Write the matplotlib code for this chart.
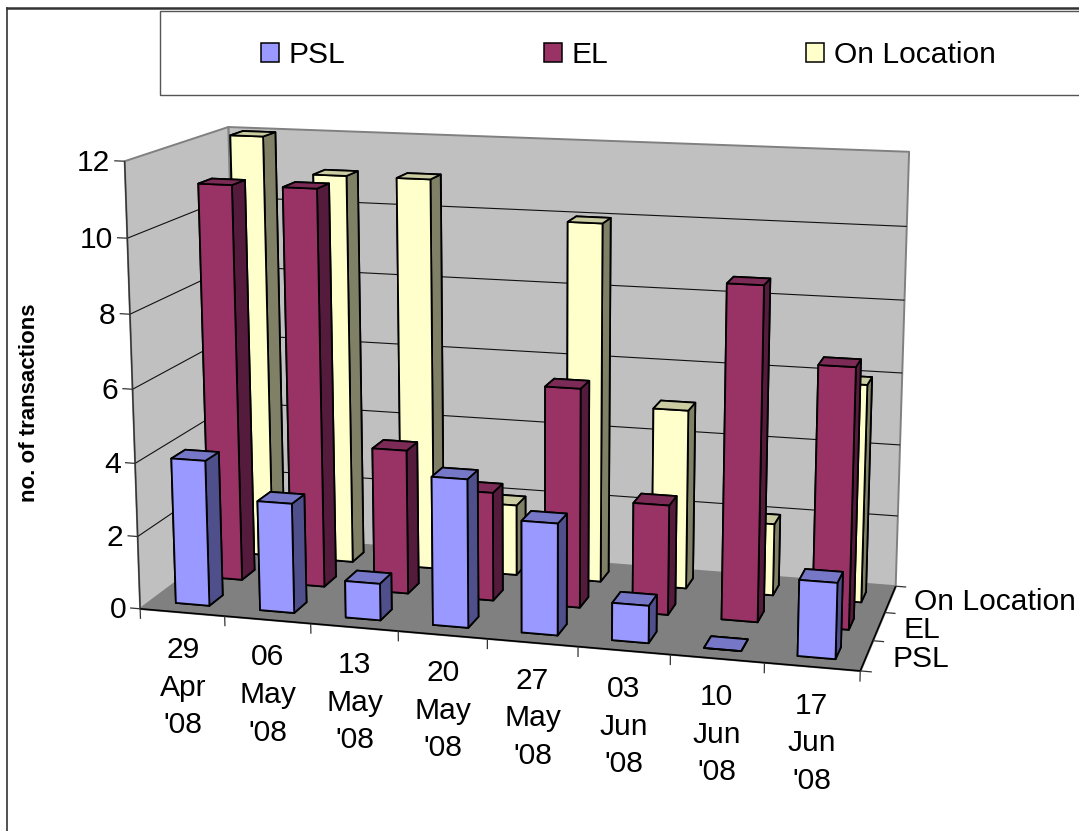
import matplotlib
matplotlib.use('Agg')
import matplotlib.pyplot as plt
import numpy as np
from matplotlib.patches import Patch, Rectangle
from matplotlib.lines import Line2D
from mpl_toolkits.mplot3d import proj3d
from mpl_toolkits.mplot3d.art3d import Poly3DCollection, Line3DCollection

plt.rcParams['font.family'] = ['Liberation Sans', 'DejaVu Sans']

W, H = 1079, 831

categories = ["29\nApr\n'08", "06\nMay\n'08", "13\nMay\n'08", "20\nMay\n'08",
              "27\nMay\n'08", "03\nJun\n'08", "10\nJun\n'08", "17\nJun\n'08"]
series_names = ['PSL', 'EL', 'On Location']
psl = [4, 3, 1, 4, 3, 1, 0, 2]
el = [11, 11, 4, 3, 6, 3, 9, 7]
on_location = [12, 11, 11, 2, 10, 5, 2, 6]
y_ticks = [0, 2, 4, 6, 8, 10, 12]

# front, side, top shades per series
front = ['#9999FF', '#993366', '#FFFFCC']
side = ['#4F4F8C', '#551B3C', '#808066']
top = ['#7777C8', '#7C2B56', '#CCCCA3']

# where the corners of the chart box land on the page, used for the camera
box_xyz = [(0, 0, 0), (8, 0, 0), (8, 3, 0), (0, 3, 0), (0, 0, 12), (0, 3, 12), (8, 3, 12)]
box_px = [(141, 608), (860, 672), (896, 585), (238, 536), (124, 161), (229, 127), (909, 152)]


def camera(xyz, px):
    rows = []
    for (x, y, z), (u, v) in zip(xyz, px):
        rows.append([x, y, z, 1, 0, 0, 0, 0, -u * x, -u * y, -u * z])
        rows.append([0, 0, 0, 0, x, y, z, 1, -v * x, -v * y, -v * z])
    sol = np.linalg.lstsq(np.array(rows, float), np.array(px, float).ravel(), rcond=None)[0]
    p = np.append(sol, 1.0)
    # third row only gives the depth used for sorting faces
    return np.array([p[:4], p[4:8], [0, 0, 0, -1], p[8:12]])


def add_lines(ax, segments, color, lw):
    ax.add_collection3d(Line3DCollection(segments, colors=color, linewidths=lw, zorder=3))


def add_label(ax, x, y, z, label, **kwargs):
    px, py, _ = proj3d.proj_transform(x, y, z, ax.get_proj())
    ax.text2D(px, py, label, transform=ax.transData, fontsize=21.6, zorder=40, **kwargs)


fig = plt.figure(figsize=(W / 100, H / 100), dpi=100)
ax = fig.add_axes([0, (H - W) / 2 / H, 1, W / H], projection='3d', computed_zorder=False)
ax.patch.set_alpha(0)
ax.set_axis_off()
ax.set_xticks([])
ax.set_yticks([])
ax.set_zticks([])
M = camera(box_xyz, box_px)
ax.get_proj = lambda: M

# walls and floor
ax.add_collection3d(Poly3DCollection([[(0, 0, 0), (0, 3, 0), (0, 3, 12), (0, 0, 12)],
                                      [(0, 3, 0), (8, 3, 0), (8, 3, 12), (0, 3, 12)]],
                                     facecolors='#C0C0C0', edgecolors='#808080', linewidths=1.4, zorder=1))
ax.add_collection3d(Poly3DCollection([[(0, 0, 0), (8, 0, 0), (8, 3, 0), (0, 3, 0)]],
                                     facecolors='#808080', edgecolors='#808080', linewidths=1, zorder=2))

# gridlines
grid = []
for v in y_ticks[1:-1]:
    grid.append([(0, 0, v), (0, 3, v)])
    grid.append([(0, 3, v), (8, 3, v)])
add_lines(ax, grid, '#111111', 0.8)

# axis lines and ticks
add_lines(ax, [[(0, 0, 0), (0, 0, 12)]], '#333333', 1)
add_lines(ax, [[(0, 0, 0), (8, 0, 0)], [(8, 0, 0), (8, 3, 0)]], 'black', 1.2)
ticks = []
for v in y_ticks:
    ticks.append([(-0.12, 0, v), (0, 0, v)])
    add_label(ax, -0.17, 0, v - 0.07, str(v), ha='right', va='center')
for i in range(len(categories) + 1):
    ticks.append([(i, 0, 0), (i, 0, -0.28)])
for j in range(len(series_names) + 1):
    ticks.append([(8, j, 0), (8.12, j, 0)])
add_lines(ax, ticks, '#333333', 0.9)

# bars, back row first
all_values = [psl, el, on_location]
width = 0.4
order = 5
for j in [2, 1, 0]:
    for i, val in enumerate(all_values[j]):
        # bar3d faces: bottom, top, front, back, left, right
        colors = [top[j], top[j], front[j], side[j], side[j], side[j]]
        ax.bar3d(i + 0.3, j + 0.3, 0, width, width, val, color=colors, shade=False,
                 edgecolor='black', linewidth=1.3, zorder=order)
        order += 1

for i, lab in enumerate(categories):
    add_label(ax, i + 0.5, 0, -0.65, lab, ha='center', va='top', linespacing=1.44)
for j, name in enumerate(series_names):
    add_label(ax, 8.27, j + 0.5, -0.03, name, ha='left', va='center')

ax.viewLim.intervalx = (0, W)
ax.viewLim.intervaly = ((W + H) / 2, (H - W) / 2)

fig.text(30 / W, 1 - 403 / H, 'no. of transactions', rotation=90, ha='center', va='center',
         fontsize=16, fontweight='bold')

# chart frame, open at right and bottom like the clipped original
fig.add_artist(Line2D([7 / W, 7 / W], [0, 1 - 8 / H], color='#333333', lw=1.2))
fig.add_artist(Line2D([7 / W, 1], [1 - 8 / H, 1 - 8 / H], color='#333333', lw=1.8))

# legend box
fig.add_artist(Rectangle((160 / W, 1 - 95 / H), (W + 20 - 160) / W, 84 / H, transform=fig.transFigure,
                         facecolor='none', edgecolor='#555555', lw=1))
handles = [Patch(facecolor=front[j], edgecolor='black', lw=1.1) for j in range(3)]
fig.legend(handles, series_names, ncol=3, frameon=False, fontsize=21.6, loc='center left',
           bbox_to_anchor=(261 / W, 1 - 55 / H), borderaxespad=0, borderpad=0,
           handlelength=0.6, handleheight=0.6, handletextpad=0.33, columnspacing=6.6)

fig.savefig('out.png', dpi=100)
